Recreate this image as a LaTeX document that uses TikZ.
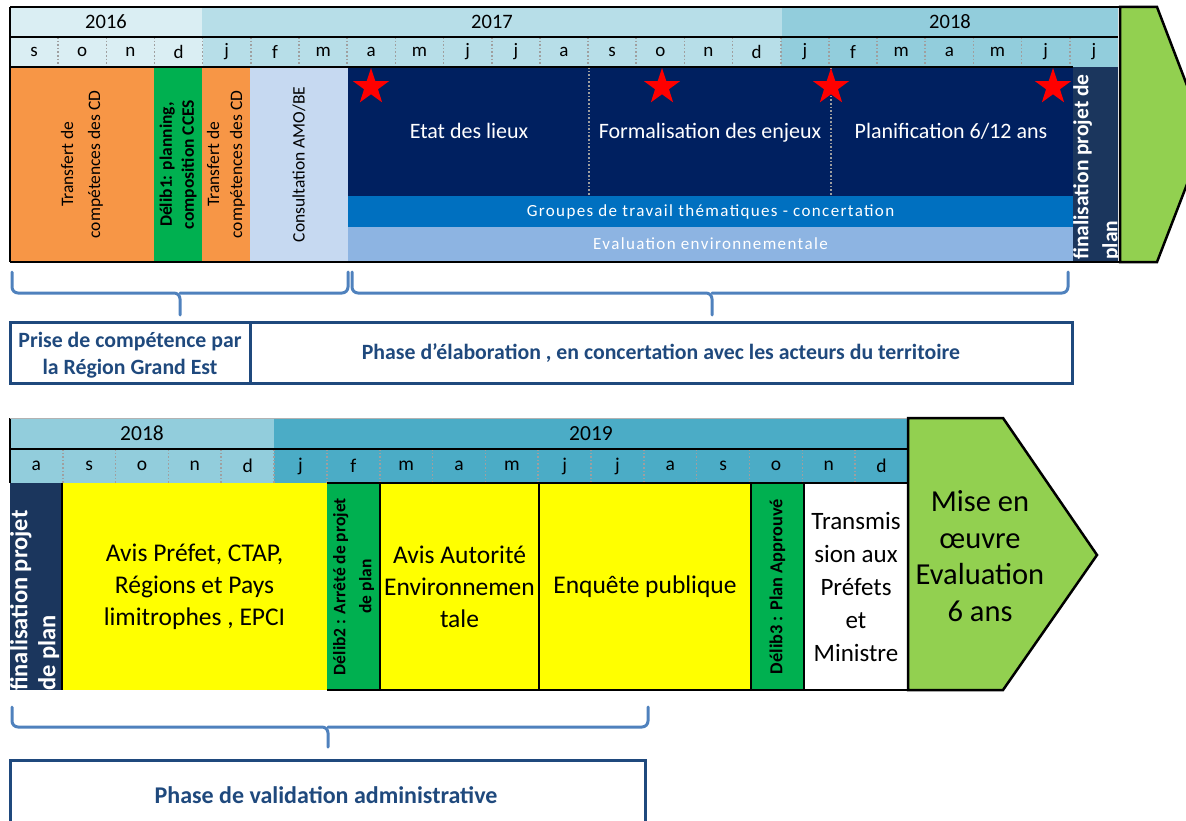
\documentclass[tikz,border=0pt]{standalone}
\usepackage{fontspec}
\setmainfont{Carlito}
\usetikzlibrary{shapes.geometric}
\definecolor{yA}{HTML}{DAEEF3}
\definecolor{yB}{HTML}{B7DEE8}
\definecolor{yC}{HTML}{92CDDC}
\definecolor{yD}{HTML}{4BACC6}
\definecolor{orng}{HTML}{F79646}
\definecolor{grn}{HTML}{00B050}
\definecolor{consb}{HTML}{C6D9F1}
\definecolor{navyb}{HTML}{002060}
\definecolor{grpb}{HTML}{0070C0}
\definecolor{evalb}{HTML}{8DB4E2}
\definecolor{slate}{HTML}{1B365D}
\definecolor{ylw}{HTML}{FFFF00}
\definecolor{agreen}{HTML}{92D050}
\definecolor{brc}{HTML}{4F81BD}
\definecolor{boxc}{HTML}{1F497D}
\newcommand\fsz[2]{\fontsize{#1pt}{#2pt}\selectfont}
\newcommand\cellat[7]{\node[cell, minimum width={(#4)-(#2)}, minimum height={(#5)-(#3)}, #6] (#1) at (#2,#3) {#7};}
\tikzset{
  cell/.style={inner sep=0pt, outer sep=0pt, anchor=north west, align=center},
  sepline/.style={draw=gray!75, dotted, line width=1.6pt},
  frameline/.style={line width=2.5pt, black},
  bracel/.style={draw=brc, line width=3pt, rounded corners=6pt, line cap=round},
  phase/.style={draw=boxc, line width=3pt},
  ptext/.style={text=boxc, font=\bfseries\fsz{21.8}{27}, align=center},
  vt/.style={rotate=90, align=center, inner sep=1pt},
  navytext/.style={text=white, font=\fsz{22}{24}, anchor=base},
  star5/.style={star, star points=5, star point ratio=2.6, fill=red, draw=none, minimum size=38pt, inner sep=0pt},
}
\begin{document}
\begin{tikzpicture}[x=1pt,y=-1pt]
\useasboundingbox (0,0) rectangle (1186,821);
\clip (0,0) rectangle (1186,821);

% ---------------- top chart ----------------
\cellat{y16}{10}{7}{202}{37}{fill=yA, font=\fsz{20.5}{22}}{2016}
\cellat{y17}{202}{7}{782}{37}{fill=yB, font=\fsz{20.5}{22}}{2017}
\cellat{y18a}{782}{7}{1118}{37}{fill=yC, font=\fsz{20.5}{22}}{2018}
\foreach \m [count=\i from 0] in {s,o,n,d,j,f,m,a,m,j,j,a,s,o,n,d,j,f,m,a,m,j,j}{
  \pgfmathsetmacro\xa{10+\i*48.17}
  \pgfmathsetmacro\xb{10+(\i+1)*48.17}
  \ifnum\i<4 \def\cc{yA}\else\ifnum\i<16 \def\cc{yB}\else\def\cc{yC}\fi\fi
  \cellat{tm\i}{\xa}{37}{\xb}{67}{fill=\cc, font=\fsz{19}{20}}{\m}
}
\foreach \i in {1,...,22} \draw[sepline] (tm\i.north west) -- (tm\i.south west);

\cellat{tr1}{10}{67}{154}{262}{fill=orng}{}
\cellat{del1}{154}{67}{202}{262}{fill=grn}{}
\cellat{tr2}{202}{67}{250}{262}{fill=orng}{}
\cellat{cons}{250}{67}{348}{262}{fill=consb}{}
\cellat{navy}{348}{67}{1073}{196}{fill=navyb}{}
\cellat{grp}{348}{196}{1073}{227}{fill=grpb, text=white, font=\fsz{17}{18}\addfontfeature{LetterSpace=8}}{Groupes de travail thématiques - concertation}
\cellat{eval}{348}{227}{1073}{261}{fill=evalb, text=white, font=\fsz{17}{18}\addfontfeature{LetterSpace=8}}{Evaluation environnementale}
\cellat{fin1}{1073}{67}{1118}{262}{fill=slate}{}

\node[vt, font=\fsz{17.5}{27}] (tr1t) at (tr1) {Transfert de\\compétences des CD};
\node[vt, font=\bfseries\fsz{17.5}{22}] (del1t) at (del1) {Délib1: planning,\\composition CCES};
\node[vt, font=\fsz{17.5}{23}] (tr2t) at (tr2) {Transfert de\\compétences des CD};
\node[vt, font=\fsz{17.5}{22}] (const) at (cons) {Consultation AMO/BE};

\draw[sepline] (589,67) -- (589,196);
\draw[sepline] (831,67) -- (831,196);
\node[navytext] (edl) at (469,139) {Etat des lieux};
\node[navytext] (form) at (710,139) {Formalisation des enjeux};
\node[navytext] (plan) at (951,139) {Planification 6/12 ans};

\node[star5] (st1) at (371,87) {};
\node[star5] (st2) at (662,87) {};
\node[star5] (st3) at (831,87) {};
\node[star5] (st4) at (1053,87) {};

\begin{scope}
  \clip (1073,67) rectangle (1118,262);
  \node[vt, anchor=north west, align=left, text=white, font=\bfseries\fsz{21.5}{29}] (fin1t) at (1072,261) {finalisation projet de\\plan};
\end{scope}

\draw[frameline] (10,7) -- (1121,7);
\draw[line width=2pt] (10,37) -- (1118,37);
\draw[line width=2pt] (10,67) -- (1073,67);
\draw[frameline] (10,262) -- (1121,262);
\draw[line width=1.2pt] (10,7) -- (10,262);

\draw[fill=agreen, line width=2.5pt, line join=miter] (1120,7) -- (1157,7) -- (1206,135) -- (1157,262) -- (1120,262) -- cycle;

% braces top
\draw[bracel] (12,272) |- (180,293) -- (180,315);
\draw[bracel] (348,272) |- (180,293);
\draw[bracel] (352,272) |- (712,293) -- (712,315);
\draw[bracel] (1068,272) |- (712,293);

% phase boxes top
\draw[phase] (10,322) rectangle (1072,383);
\draw[phase] (250,322) -- (250,383);
\node[ptext] (prise) at (130,355) {Prise de compétence par\\la Région Grand Est};
\node[ptext] (elab) at (661,353) {Phase d'élaboration , en concertation avec les acteurs du territoire};

% ---------------- bottom chart ----------------
\cellat{y18b}{10}{418}{274}{449}{fill=yC, font=\fsz{21.5}{22}}{2018}
\cellat{y19}{274}{418}{908}{449}{fill=yD, font=\fsz{21.5}{22}}{2019}
\foreach \m [count=\i from 0] in {a,s,o,n,d,j,f,m,a,m,j,j,a,s,o,n,d}{
  \pgfmathsetmacro\xa{10+\i*52.82}
  \pgfmathsetmacro\xb{10+(\i+1)*52.82}
  \ifnum\i<5 \def\cc{yC}\else\def\cc{yD}\fi
  \cellat{bm\i}{\xa}{449}{\xb}{483}{fill=\cc, font=\fsz{19.5}{20}}{\m}
}
\foreach \i in {1,...,16} \draw[sepline] (bm\i.north west) -- (bm\i.south west);

\cellat{fin2}{10}{483}{62}{690}{fill=slate}{}
\cellat{avis1}{62}{483}{327}{690}{fill=ylw, font=\fsz{25.5}{32}}{Avis Préfet, CTAP,\\Régions et Pays\\limitrophes , EPCI}
\cellat{del2}{327}{483}{380}{690}{fill=grn}{}
\cellat{avis2}{380}{483}{539}{690}{fill=ylw, font=\fsz{25.5}{32}}{Avis Autorité\\Environnemen\\tale}
\cellat{enq}{539}{483}{751}{690}{fill=ylw, font=\fsz{25.5}{32}}{Enquête publique}
\cellat{del3}{751}{483}{804}{690}{fill=grn}{}
\cellat{trans}{804}{483}{908}{690}{fill=white, font=\fsz{25}{33}}{Transmis\\sion aux\\Préfets\\et\\Ministre}

\node[vt, font=\bfseries\fsz{17.5}{26}] (del2t) at (del2) {Délib2 : Arrêté de projet\\de plan};
\node[vt, font=\bfseries\fsz{18.3}{20}] (del3t) at (del3) {Délib3 : Plan Approuvé};
\begin{scope}
  \clip (10,483) rectangle (62,690);
  \node[vt, anchor=north west, align=left, text=white, font=\bfseries\fsz{24.5}{28}] (fin2t) at (9,692) {finalisation projet\\de plan};
\end{scope}

\draw[frameline] (10,449) -- (908,449);
\draw[frameline] (327,483) -- (908,483);
\draw[frameline] (327,690) -- (908,690);
\draw[line width=2pt] (62,483) -- (62,690);
\foreach \xx in {380,539,751,804} \draw[frameline] (\xx,483) -- (\xx,690);
\draw[line width=1.2pt] (10,418) -- (10,483);
\draw[line width=1pt, gray!60] (10,418) -- (908,418);

\draw[fill=agreen, line width=2.5pt, line join=miter] (908,418) -- (1003,418) -- (1097,555) -- (1003,690) -- (908,690) -- cycle;
\node[align=center, font=\fsz{30.5}{36.5}] (mise) at (980,556) {Mise en\\œuvre\\Evaluation\\6 ans};

% brace bottom
\draw[bracel] (12,707) |- (328,727) -- (328,747);
\draw[bracel] (648,707) |- (328,727);

\draw[phase] (10,830) |- (645,760) -- (645,830);
\node[ptext, font=\bfseries\fsz{24}{26}] (valid) at (326,795) {Phase de validation administrative};
\end{tikzpicture}
\end{document}
